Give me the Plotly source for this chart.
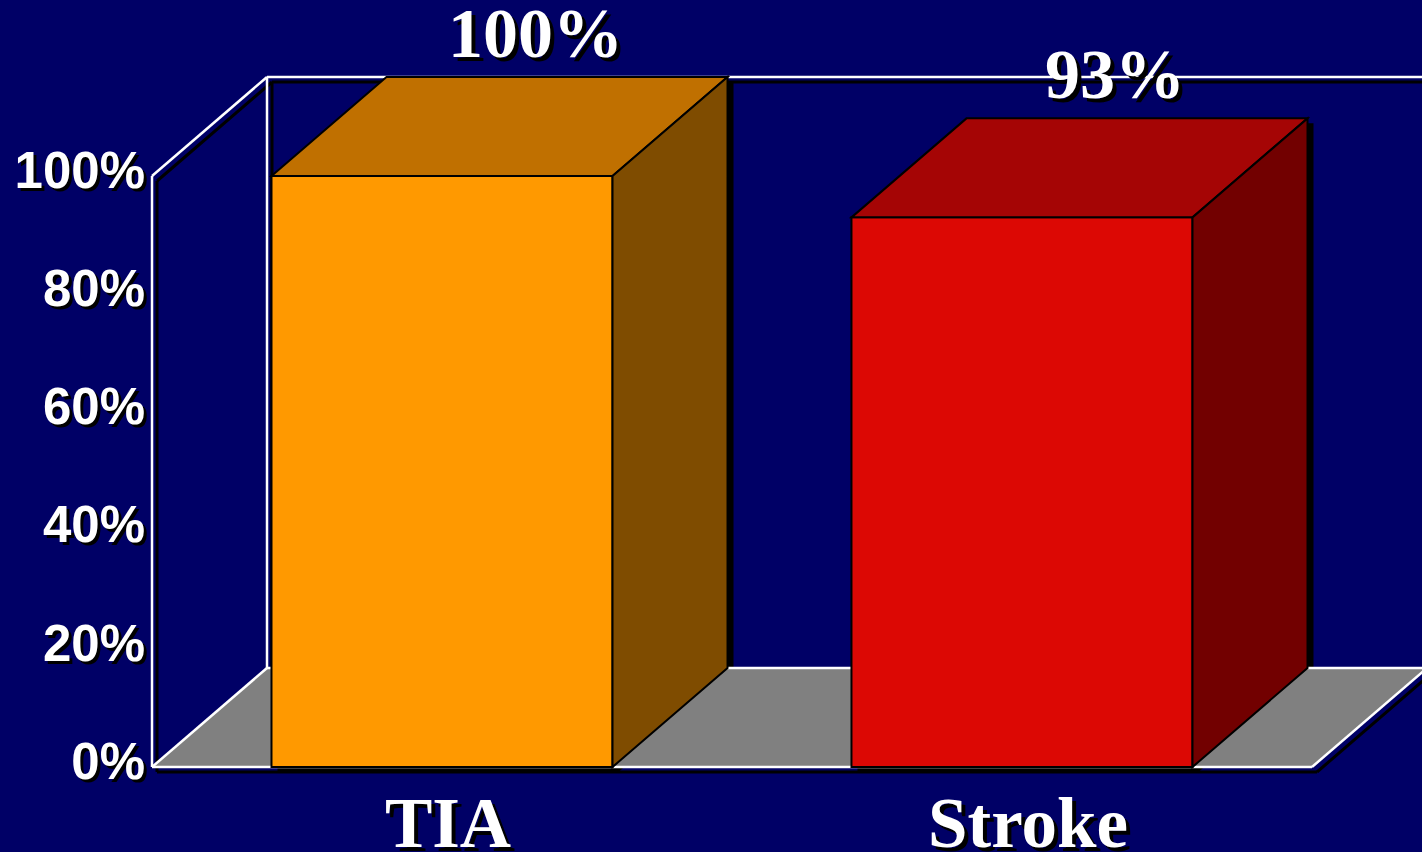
import plotly.graph_objects as go

# ---- data -------------------------------------------------------------
categories = ["TIA", "Stroke"]
values = [100, 93]
tick_values = [0, 20, 40, 60, 80, 100]
tick_labels = ["0%", "20%", "40%", "60%", "80%", "100%"]

front_colors = ["#FF9900", "#DC0804"]
top_colors = ["#C07000", "#A50505"]
side_colors = ["#7F4C00", "#720000"]

# ---- geometry / styling ----------------------------------------------
W, H = 1422, 852
BG = "#000066"
X_RANGE = [-0.7621, 1.6897]
Y_RANGE = [-14.38, 129.78]
PX_X = (X_RANGE[1] - X_RANGE[0]) / W   # x data units per pixel
PX_Y = (Y_RANGE[1] - Y_RANGE[0]) / H   # y data units per pixel

BAR_W = 0.588
DX, DY = 115 * PX_X, 99 * PX_Y        # depth of the 3-D extrusion
WALL_TOP = 100
X_LEFT, X_RIGHT = -0.5, 1.5

SHADOW_X, SHADOW_Y = 5 * PX_X, -5 * PX_Y
BAR_SHADOW_X, BAR_SHADOW_Y = 6 * PX_X, -5 * PX_Y


def poly(points, **kw):
    d = "M " + " L ".join(f"{x},{y}" for x, y in points) + " Z"
    return dict(type="path", path=d, xref="x", yref="y", **kw)


def seg(p0, p1, color, width, dx=0.0, dy=0.0, layer="below"):
    return dict(type="line", xref="x", yref="y", layer=layer,
                x0=p0[0] + dx, y0=p0[1] + dy, x1=p1[0] + dx, y1=p1[1] + dy,
                line=dict(color=color, width=width))


shapes = []

# drop shadows of the bars (silhouette shifted right / down)
for i, v in enumerate(values):
    L, R = i - BAR_W / 2, i + BAR_W / 2
    sil = [(L, 0), (L, v), (L + DX, v + DY), (R + DX, v + DY), (R + DX, DY), (R, 0)]
    sil = [(x + BAR_SHADOW_X, y + BAR_SHADOW_Y) for x, y in sil]
    shapes.append(poly(sil, fillcolor="black", line=dict(width=0), layer="below"))

# frame lines
frame = [
    ((X_LEFT, 0), (X_LEFT, WALL_TOP)),
    ((X_LEFT + DX, DY), (X_LEFT + DX, WALL_TOP + DY)),
    ((X_LEFT, WALL_TOP), (X_LEFT + DX, WALL_TOP + DY)),
    ((X_LEFT + DX, WALL_TOP + DY), (X_RIGHT + DX, WALL_TOP + DY)),
    ((X_LEFT, 0), (X_RIGHT, 0)),
    ((X_RIGHT, 0), (X_RIGHT + DX, DY)),
]
for p0, p1 in frame:
    shapes.append(seg(p0, p1, "black", 3, SHADOW_X, SHADOW_Y))

# floor
floor = [(X_LEFT, 0), (X_LEFT + DX, DY), (X_RIGHT + DX, DY), (X_RIGHT, 0)]
shapes.append(poly(floor, fillcolor="#808080", line=dict(width=0), layer="below"))

floor_edges = [
    ((X_LEFT, 0), (X_LEFT + DX, DY)),
    ((X_LEFT + DX, DY), (X_RIGHT + DX, DY)),
]
for p0, p1 in frame + floor_edges:
    shapes.append(seg(p0, p1, "white", 2.5))

# top and side faces of each bar
for i, v in enumerate(values):
    L, R = i - BAR_W / 2, i + BAR_W / 2
    top = [(L, v), (L + DX, v + DY), (R + DX, v + DY), (R, v)]
    side = [(R, 0), (R, v), (R + DX, v + DY), (R + DX, DY)]
    shapes.append(poly(top, fillcolor=top_colors[i],
                       line=dict(color="black", width=2), layer="above"))
    shapes.append(poly(side, fillcolor=side_colors[i],
                       line=dict(color="black", width=2), layer="above"))

fig = go.Figure()
fig.add_trace(go.Bar(
    x=list(range(len(categories))), y=values, width=BAR_W,
    marker=dict(color=front_colors, line=dict(color="black", width=2)),
    hoverinfo="skip", showlegend=False,
))

value_font = dict(family="Liberation Serif", size=70, color="white",
                  weight="bold", shadow="4px 4px 0px black")
annotations = [
    dict(x=i + DX / 2, y=v + DY, xref="x", yref="y", text=f"{v}%",
         showarrow=False, xanchor="center", yanchor="middle",
         xshift=36, yshift=44, font=value_font)
    for i, v in enumerate(values)
]

fig.update_layout(
    width=W, height=H, autosize=False,
    margin=dict(l=0, r=0, t=0, b=0, pad=0),
    paper_bgcolor=BG, plot_bgcolor=BG,
    shapes=shapes, annotations=annotations,
    xaxis=dict(
        range=X_RANGE, domain=[0, 1], anchor="free",
        position=(H - 767) / H,
        tickmode="array", tickvals=list(range(len(categories))),
        ticktext=categories, ticks="", ticklen=0,
        ticklabelstandoff=8, ticklabelshift=6,
        tickfont=dict(family="Liberation Serif", size=71, color="white",
                      weight="bold", shadow="4px 4px 0px black"),
        showgrid=False, zeroline=False, showline=False, automargin=False,
        fixedrange=True,
    ),
    yaxis=dict(
        range=Y_RANGE, domain=[0, 1], anchor="free", position=153 / W,
        tickmode="array", tickvals=tick_values, ticktext=tick_labels,
        ticks="", ticklen=0, ticklabelstandoff=8, ticklabelshift=-6,
        tickfont=dict(family="Liberation Sans", size=51, color="white",
                      weight="bold", shadow="3px 3px 0px black"),
        showgrid=False, zeroline=False, showline=False, automargin=False,
        fixedrange=True,
    ),
)

fig.write_html("out.html", config={"displayModeBar": False})
